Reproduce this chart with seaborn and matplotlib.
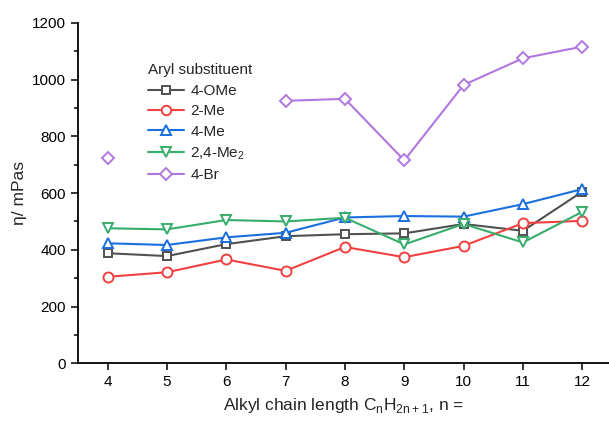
import numpy as np
import pandas as pd
import matplotlib
matplotlib.use("Agg")
import matplotlib.pyplot as plt
from matplotlib.lines import Line2D
from matplotlib.ticker import MultipleLocator
import seaborn as sns

chain_n = [4, 5, 6, 7, 8, 9, 10, 11, 12]
ome4 = [388, 378, 420, 448, 455, 458, 491, 467, 605]
me2 = [305, 321, 366, 326, 410, 374, 414, 494, 502]
me4 = [423, 417, 444, 460, 514, 519, 517, 561, 614]
me24 = [476, 472, 505, 500, 513, 419, 491, 426, 534]
br4 = [723, np.nan, np.nan, 925, 932, 715, 981, 1075, 1116]

labels = ["4-OMe", "2-Me", "4-Me", "2,4-Me$_2$", "4-Br"]
colors = ["#515151", "#F14040", "#1A6FDF", "#37AD6B", "#B177DE"]
markers = ["s", "o", "^", "v", "D"]
msizes = [6.2, 7.2, 7.8, 7.8, 6.6]
series = [ome4, me2, me4, me24, br4]

sns.set_theme(style="ticks")
plt.rcParams["font.family"] = ["Liberation Sans", "DejaVu Sans"]
plt.rcParams["mathtext.fontset"] = "custom"
plt.rcParams["mathtext.rm"] = "Liberation Sans"

fig = plt.figure(figsize=(6.09, 4.22), dpi=100)
ax = fig.add_axes([0.128, 0.139, 0.872, 0.807])

for vals, lab, c, m, ms in zip(series, labels, colors, markers, msizes):
    df = pd.DataFrame({"n": chain_n, "eta": vals})
    # split into contiguous segments so gaps are not bridged
    df["seg"] = df["eta"].isna().cumsum()
    df = df.dropna()
    for _, g in df.groupby("seg"):
        sns.lineplot(data=g, x="n", y="eta", ax=ax, color=c, marker=m,
                     markersize=ms, markerfacecolor="white", markeredgecolor=c,
                     markeredgewidth=1.4, linewidth=1.5, clip_on=False,
                     legend=False, estimator=None)

ax.set_xlim(3.5, 12.45)
ax.set_ylim(0, 1200)
ax.set_xticks(chain_n)
ax.yaxis.set_major_locator(MultipleLocator(200))
ax.yaxis.set_minor_locator(MultipleLocator(100))
ax.tick_params(axis="both", which="major", direction="out", length=5, width=1.1,
               labelsize=11, color="black", labelcolor="black")
ax.tick_params(axis="y", which="minor", direction="out", length=3, width=1.1, color="black")
for s in ["top", "right"]:
    ax.spines[s].set_visible(False)
for s in ["left", "bottom"]:
    ax.spines[s].set_linewidth(1.3)
    ax.spines[s].set_color("black")

ax.set_xlabel(r"Alkyl chain length C$_\mathregular{n}$H$_\mathregular{2n+1}$, n =", fontsize=12.5, labelpad=5)
ax.set_ylabel("η/ mPas", fontsize=12.5, labelpad=4)

handles = [Line2D([0], [0], color=c, marker=m, markersize=ms * 0.95, markerfacecolor="white",
                  markeredgecolor=c, markeredgewidth=1.4, linewidth=1.5)
           for c, m, ms in zip(colors, markers, msizes)]
leg = fig.legend(handles, labels, title="Aryl substituent", loc="upper left",
                 bbox_to_anchor=(0.225, 0.875), frameon=False, fontsize=11,
                 title_fontsize=11, handlelength=2.4, handletextpad=0.4,
                 labelspacing=0.42, borderpad=0.2, alignment="left")

fig.savefig("out.png", dpi=100)
